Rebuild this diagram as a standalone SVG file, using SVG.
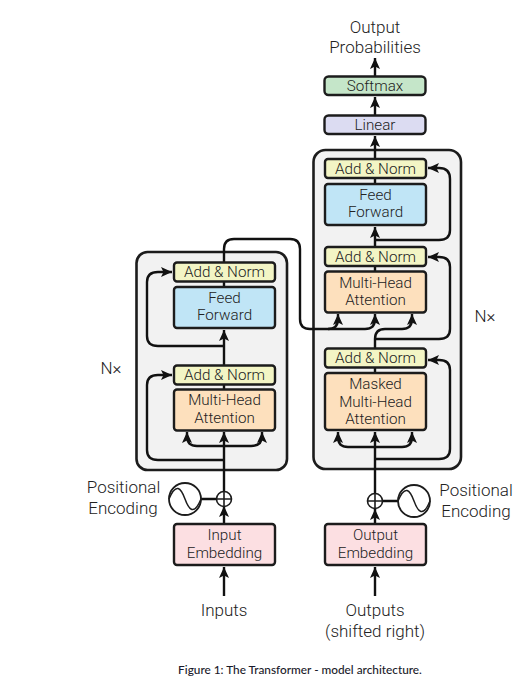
<svg xmlns="http://www.w3.org/2000/svg" width="530" height="696" viewBox="0 0 530 696">
<style>
text{font-family:Roboto,"Liberation Sans",Arial,sans-serif;font-weight:300;font-size:15.2px;fill:#222;text-anchor:middle}
.l{font-size:17px}
.cap{font-family:Lato,"Open Sans",sans-serif;font-size:11.8px;fill:#1a1a2a;font-weight:500}
.stack{fill:#f2f2f2;stroke:#1c1c1c;stroke-width:2.6}
.n{stroke:#1c1c1c;stroke-width:2.4}
.an{fill:#f3f5c5}.ff{fill:#c0e5f6}.mh{fill:#fde0bd}.em{fill:#fcdfe2}
.c{fill:none;stroke:#111;stroke-width:2.4}
.o{fill:#fff;stroke:#1c1c1c;stroke-width:1.6}
</style>
<defs>
<marker id="a" markerUnits="userSpaceOnUse" markerWidth="14" markerHeight="14" refX="11" refY="6" orient="auto"><path d="M0 1L11 6L0 11L2.500 6Z" fill="#111"/></marker>
</defs>
<g id="encoder-stack"><rect class="stack" x="136.500" y="252" width="150.500" height="218" rx="11"/></g>
<g id="decoder-stack"><rect class="stack" x="313.500" y="150" width="147.500" height="319" rx="12"/></g>
<g id="connectors">
<path class="c" marker-end="url(#a)" d="M224 596V567"/>
<path class="c" marker-end="url(#a)" d="M224 524V506"/>
<path class="c" marker-end="url(#a)" d="M224 492V432"/>
<path class="c" marker-end="url(#a)" d="M224 365V330"/>
<path class="c" d="M224 389V384M224 287V282"/>
<path class="c" marker-end="url(#a)" d="M224 446H197Q187 446 187 436V432"/>
<path class="c" marker-end="url(#a)" d="M224 446H251Q262 446 262 436V432"/>
<path class="c" marker-end="url(#a)" d="M224 460H158Q147 460 147 450V385Q147 375 158 375H172"/>
<path class="c" marker-end="url(#a)" d="M224 346H158Q147 346 147 336V282Q147 272 158 272H172"/>
<path class="c" marker-end="url(#a)" d="M224 262V249Q224 239 234 239H290Q300 239 300 249V319Q300 329 310 329H328Q338 329 338 319V314"/>
<path class="c" marker-end="url(#a)" d="M328 329H365Q375 329 375 319V314"/>
<path class="c" marker-end="url(#a)" d="M375 348V339Q375 329 385 329H402Q412 329 412 319V314"/>
<path class="c" marker-end="url(#a)" d="M375 524V509"/>
<path class="c" marker-end="url(#a)" d="M375 596V567"/>
<path class="c" marker-end="url(#a)" d="M375 493V432"/>
<path class="c" marker-end="url(#a)" d="M375 447H348Q338 447 338 437V432"/>
<path class="c" marker-end="url(#a)" d="M375 447H402Q412 447 412 437V432"/>
<path class="c" marker-end="url(#a)" d="M375 459H439Q450 459 450 449V370Q450 360 439 360H428"/>
<path class="c" d="M375 373V367M375 271V266"/>
<path class="c" marker-end="url(#a)" d="M375 339H439Q450 339 450 329V267Q450 257 439 257H428"/>
<path class="c" marker-end="url(#a)" d="M375 247V227"/>
<path class="c" marker-end="url(#a)" d="M375 240H439Q450 240 450 230V179Q450 168 439 168H428"/>
<path class="c" d="M375 184V178"/>
<path class="c" marker-end="url(#a)" d="M375 159V136"/>
<path class="c" marker-end="url(#a)" d="M375 115V97"/>
<path class="c" marker-end="url(#a)" d="M375 76V58"/>
<path class="c" d="M201 499H217M398 501H383" stroke-width="2"/>
</g>
<g id="enc-add-norm-2"><rect class="n an" x="174" y="262.500" width="101" height="19" rx="3"/><text x="224.500" y="277">Add &amp; Norm</text></g>
<g id="enc-feed-forward"><rect class="n ff" x="174" y="287" width="101" height="41" rx="3"/><text x="224.500" y="303">Feed</text><text x="224.500" y="320">Forward</text></g>
<g id="enc-add-norm-1"><rect class="n an" x="174" y="365.500" width="101" height="19" rx="3"/><text x="224.500" y="380">Add &amp; Norm</text></g>
<g id="enc-attention"><rect class="n mh" x="174" y="389.500" width="101" height="41" rx="3"/><text x="224.500" y="405">Multi-Head</text><text x="224.500" y="423">Attention</text></g>
<g id="input-embedding"><rect class="n em" x="174" y="524" width="101" height="41" rx="3"/><text x="224.500" y="540">Input</text><text x="224.500" y="558">Embedding</text></g>
<g id="dec-add-norm-3"><rect class="n an" x="325" y="159" width="101" height="19" rx="3"/><text x="375.500" y="174">Add &amp; Norm</text></g>
<g id="dec-feed-forward"><rect class="n ff" x="325" y="184" width="101" height="41" rx="3"/><text x="375.500" y="200">Feed</text><text x="375.500" y="217">Forward</text></g>
<g id="dec-add-norm-2"><rect class="n an" x="325" y="247" width="101" height="19" rx="3"/><text x="375.500" y="262">Add &amp; Norm</text></g>
<g id="dec-attention"><rect class="n mh" x="325" y="271.500" width="101" height="41" rx="3"/><text x="375.500" y="288">Multi-Head</text><text x="375.500" y="305">Attention</text></g>
<g id="dec-add-norm-1"><rect class="n an" x="325" y="348.500" width="101" height="19" rx="3"/><text x="375.500" y="363">Add &amp; Norm</text></g>
<g id="dec-masked-attention"><rect class="n mh" x="325" y="373" width="101" height="57" rx="3"/><text x="375.500" y="389">Masked</text><text x="375.500" y="406.500">Multi-Head</text><text x="375.500" y="424">Attention</text></g>
<g id="output-embedding"><rect class="n em" x="325" y="524" width="101" height="41" rx="3"/><text x="375.500" y="540">Output</text><text x="375.500" y="558">Embedding</text></g>
<g id="softmax"><rect class="n" fill="#c5e6c9" x="324.500" y="76.500" width="101" height="18.500" rx="4"/><text x="375" y="91">Softmax</text></g>
<g id="linear"><rect class="n" fill="#dcdcf2" x="324.500" y="115.500" width="101" height="18.500" rx="4"/><text x="375" y="130">Linear</text></g>
<g id="enc-plus"><circle class="o" cx="224" cy="499" r="7.500"/><path class="o" d="M216.500 499H231.500M224 491.500V506.500"/></g>
<g id="enc-positional"><circle cx="185" cy="499" r="16" fill="#fff" stroke="#1c1c1c" stroke-width="1.800"/><path d="M169 499C176 482 181 488 185 499S194 516 201 499" fill="none" stroke="#1c1c1c" stroke-width="1.500"/><text class="l" x="123.500" y="493">Positional</text><text class="l" x="123" y="514">Encoding</text></g>
<g id="dec-plus"><circle class="o" cx="375" cy="501" r="7.500"/><path class="o" d="M367.500 501H382.500M375 493.500V508.500"/></g>
<g id="dec-positional"><circle cx="414" cy="501" r="16" fill="#fff" stroke="#1c1c1c" stroke-width="1.800"/><path d="M398 501C405 484 410 490 414 501S423 518 430 501" fill="none" stroke="#1c1c1c" stroke-width="1.500"/><text class="l" x="476" y="496">Positional</text><text class="l" x="476" y="517">Encoding</text></g>
<g id="labels">
<text class="l" x="111" y="374">N×</text>
<text class="l" x="485" y="322">N×</text>
<text class="l" x="375" y="33">Output</text>
<text class="l" x="375" y="53">Probabilities</text>
<text class="l" x="224" y="616">Inputs</text>
<text class="l" x="375" y="616">Outputs</text>
<text class="l" x="375" y="637">(shifted right)</text>
<text class="cap" x="300" y="674">Figure 1: The Transformer - model architecture.</text>
</g>
</svg>
